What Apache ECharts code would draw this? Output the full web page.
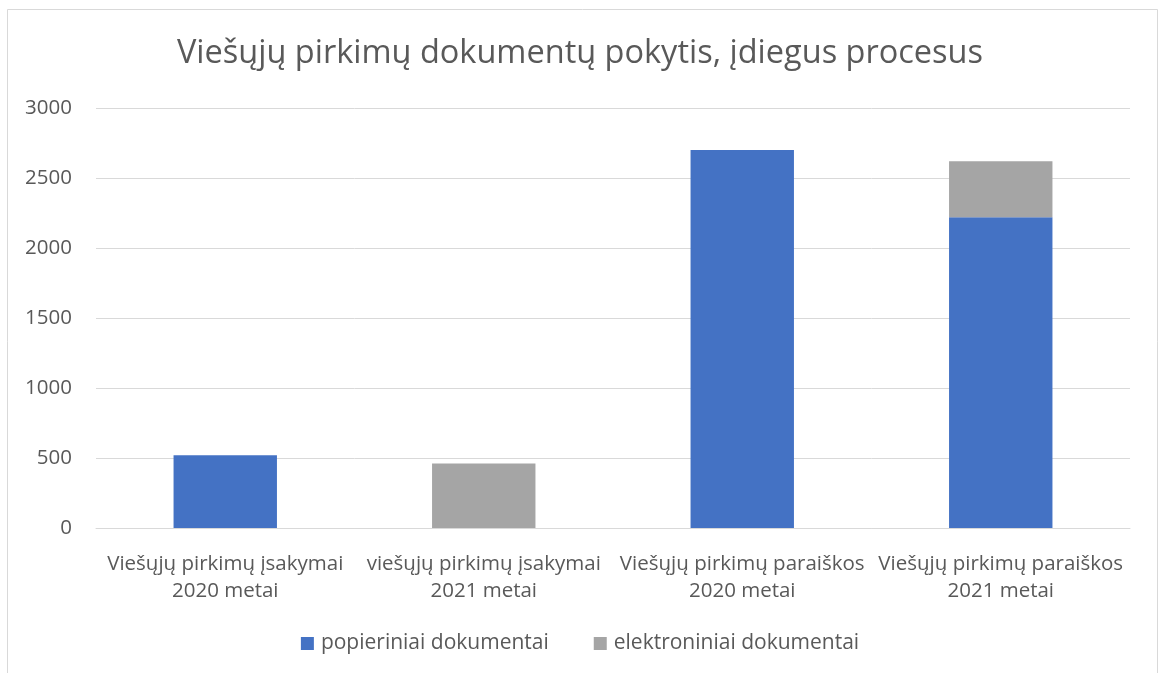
<!DOCTYPE html>
<html>
<head>
<meta charset="utf-8">
<script src="https://cdn.jsdelivr.net/npm/echarts@6/dist/echarts.min.js"></script>
<style>
html,body{margin:0;padding:0;background:#fff;}
#chart{width:1160px;height:673px;}
</style>
</head>
<body>
<div id="chart"></div>
<script>
const titleText = 'Viešųjų pirkimų dokumentų pokytis, įdiegus procesus';
const categories = [
  'Viešųjų pirkimų įsakymai\n2020 metai',
  'viešųjų pirkimų įsakymai\n2021 metai',
  'Viešųjų pirkimų paraiškos\n2020 metai',
  'Viešųjų pirkimų paraiškos\n2021 metai'
];
const seriesNames = ['popieriniai dokumentai', 'elektroniniai dokumentai'];
const paperDocs = [520, null, 2700, 2220];
const electronicDocs = [null, 460, null, 400];
const yTicks = {min: 0, max: 3000, interval: 500};

const font = '"Open Sans", "Noto Sans", sans-serif';
const textColor = '#595959';

const chart = echarts.init(document.getElementById('chart'), null, {renderer: 'canvas'});
chart.setOption({
  animation: false,
  backgroundColor: '#ffffff',
  title: {
    text: titleText,
    left: 'center',
    top: 32,
    textStyle: {fontFamily: font, fontSize: 32.5, fontWeight: 'normal', color: textColor}
  },
  legend: {
    data: seriesNames,
    bottom: 14,
    left: 'center',
    itemWidth: 13,
    itemHeight: 13,
    itemGap: 45,
    icon: 'rect',
    textStyle: {fontFamily: font, fontSize: 21, color: textColor, padding: [0, 0, 0, 2]}
  },
  graphic: [{
    type: 'rect',
    shape: {x: 7.5, y: 9.5, width: 1150, height: 700},
    style: {fill: 'none', stroke: '#d9d9d9', lineWidth: 1},
    silent: true,
    z: -1
  }],
  grid: {left: 96, right: 30, top: 108, bottom: 145, containLabel: false},
  xAxis: {
    type: 'category',
    data: categories,
    axisLine: {show: true, lineStyle: {color: '#d9d9d9', width: 1}},
    axisTick: {show: false},
    axisLabel: {
      fontFamily: font, fontSize: 20.5, color: textColor, lineHeight: 27,
      margin: 23, interval: 0
    }
  },
  yAxis: {
    type: 'value',
    min: yTicks.min,
    max: yTicks.max,
    interval: yTicks.interval,
    axisLine: {show: false},
    axisTick: {show: false},
    splitLine: {lineStyle: {color: '#d9d9d9', width: 1}},
    axisLabel: {fontFamily: font, fontSize: 20.5, color: textColor, margin: 24,
      formatter: function (v) { return String(v); }}
  },
  series: [
    {
      name: seriesNames[0], type: 'bar', stack: 'total', data: paperDocs,
      barWidth: '40%',
      itemStyle: {color: '#4472C4'}
    },
    {
      name: seriesNames[1], type: 'bar', stack: 'total', data: electronicDocs,
      barWidth: '40%',
      itemStyle: {color: '#A5A5A5'}
    }
  ]
});
</script>
</body>
</html>
